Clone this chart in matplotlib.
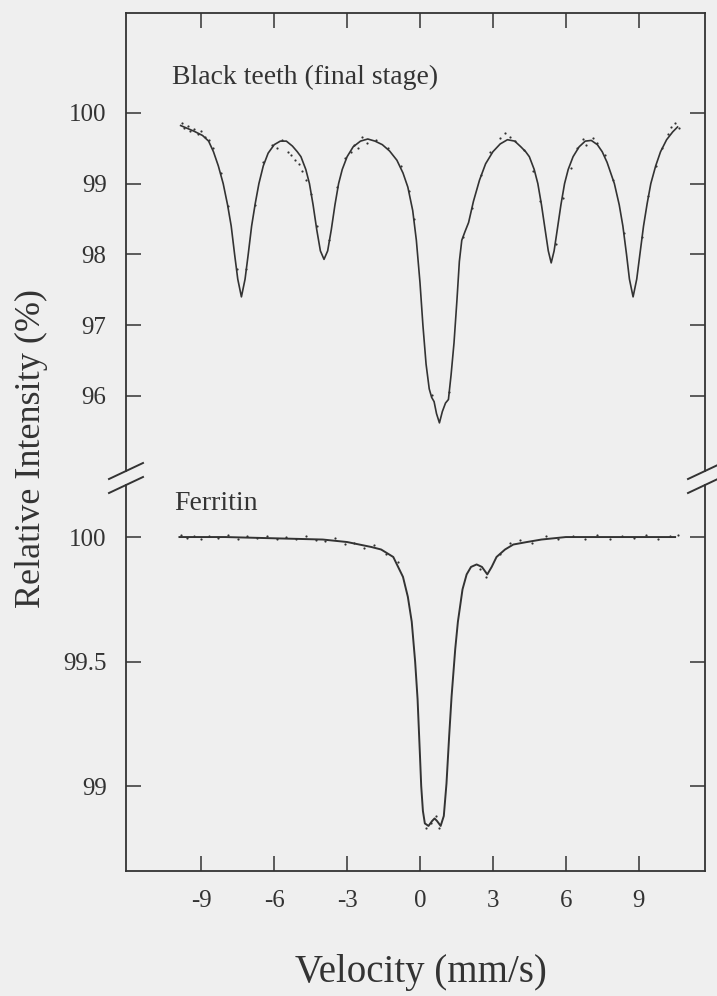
import matplotlib
matplotlib.use("Agg")
import matplotlib.pyplot as plt
from matplotlib.lines import Line2D

plt.rcParams["font.family"] = ["Liberation Serif", "DejaVu Serif"]

# Black teeth (final stage) - fitted curve
bt_vel = [-9.85, -9.3, -8.95, -8.7, -8.5, -8.3, -8.1, -7.92, -7.77, -7.63, -7.5, -7.35, -7.2, -7.07,
          -6.93, -6.78, -6.63, -6.45, -6.25, -6.0, -5.75, -5.5, -5.25, -5.05, -4.9, -4.7, -4.55, -4.4,
          -4.25, -4.1, -3.95, -3.8, -3.65, -3.5, -3.35, -3.2, -3.0, -2.75, -2.45, -2.15, -1.85, -1.55,
          -1.25, -0.95, -0.7, -0.5, -0.3, -0.15, 0.0, 0.12, 0.25, 0.38, 0.48, 0.58, 0.68, 0.8, 0.92,
          1.05, 1.17, 1.28, 1.4, 1.52, 1.62, 1.72, 1.85, 2.0, 2.2, 2.45, 2.7, 3.0, 3.3, 3.6, 3.9,
          4.15, 4.35, 4.5, 4.7, 4.85, 5.0, 5.15, 5.28, 5.4, 5.52, 5.65, 5.8, 5.95, 6.1, 6.3, 6.55,
          6.8, 7.05, 7.3, 7.5, 7.7, 7.85, 8.0, 8.2, 8.35, 8.5, 8.62, 8.77, 8.92, 9.05, 9.2, 9.35,
          9.5, 9.7, 9.9, 10.15, 10.4, 10.6]
bt_int = [99.82, 99.74, 99.68, 99.6, 99.45, 99.25, 99.0, 98.7, 98.4, 98.0, 97.65, 97.4, 97.65, 98.0,
          98.4, 98.72, 99.0, 99.25, 99.43, 99.55, 99.6, 99.6, 99.53, 99.45, 99.38, 99.2, 99.0, 98.7,
          98.35, 98.05, 97.93, 98.05, 98.35, 98.7, 99.0, 99.2, 99.38, 99.52, 99.6, 99.63, 99.6, 99.55,
          99.46, 99.33, 99.15, 98.95, 98.62, 98.2, 97.6, 97.0, 96.45, 96.1, 95.98, 95.92, 95.75, 95.62, 95.78,
          95.9, 95.95, 96.3, 96.75, 97.35, 97.9, 98.2, 98.32, 98.45, 98.75, 99.05, 99.28, 99.45, 99.56, 99.62, 99.6,
          99.52, 99.45, 99.38, 99.2, 99.0, 98.7, 98.35, 98.05, 97.88, 98.05, 98.35, 98.7, 99.0, 99.2, 99.38, 99.52,
          99.6, 99.61, 99.55, 99.45, 99.3, 99.15, 99.0, 98.7, 98.4, 98.0, 97.65, 97.4, 97.65, 98.0, 98.4, 98.72,
          99.0, 99.25, 99.45, 99.62, 99.73, 99.8]

# measured points scattered around the fit
bt_dot_vel = [-9.8, -9.7, -9.55, -9.45, -9.3, -9.15, -9.0, -8.85, -8.7, -8.5, -8.2, -7.9, -7.55, -7.15,
              -6.8, -6.45, -6.1, -5.9, -5.7, -5.45, -5.3, -5.15, -5.0, -4.85, -4.7, -4.5, -4.25, -3.75,
              -3.4, -3.1, -2.85, -2.7, -2.55, -2.4, -2.2, -1.8, -1.3, -0.8, -0.45, -0.25, 0.5, 1.2,
              1.75, 2.15, 2.5, 2.9, 3.3, 3.5, 3.7, 3.9, 4.3, 4.65, 4.95, 5.6, 5.9, 6.2, 6.45,
              6.7, 6.85, 7.1, 7.3, 7.6, 7.95, 8.4, 9.15, 9.4, 9.7, 9.95, 10.2, 10.35, 10.5, 10.65]
bt_dot_int = [99.86, 99.78, 99.82, 99.74, 99.77, 99.70, 99.75, 99.66, 99.62, 99.5, 99.15, 98.68, 97.8, 97.8,
              98.7, 99.3, 99.55, 99.50, 99.62, 99.45, 99.40, 99.33, 99.28, 99.18, 99.05, 98.85, 98.4, 98.2,
              98.95, 99.36, 99.45, 99.55, 99.50, 99.66, 99.58, 99.62, 99.5, 99.25, 98.9, 98.5, 96.02, 96.05,
              98.25, 98.66, 99.12, 99.45, 99.64, 99.72, 99.66, 99.60, 99.48, 99.18, 98.75, 98.15, 98.8, 99.22, 99.5,
              99.63, 99.55, 99.65, 99.58, 99.4, 99.05, 98.3, 98.25, 98.82, 99.25, 99.5, 99.7, 99.8, 99.85, 99.78]

# Ferritin - fitted curve
fe_vel = [-9.9, -8.0, -6.0, -4.0, -3.0, -2.5, -2.0, -1.6, -1.1, -0.7, -0.5, -0.34, -0.2, -0.1, 0.0,
          0.05, 0.12, 0.2, 0.35, 0.5, 0.6, 0.7, 0.85, 0.98, 1.09, 1.2, 1.3, 1.45, 1.56, 1.75, 1.92,
          2.1, 2.33, 2.55, 2.77, 2.95, 3.15, 3.5, 3.84, 4.4, 5.0, 6.0, 8.0, 10.5]
fe_int = [100.0, 100.0, 99.995, 99.99, 99.98, 99.97, 99.96, 99.95, 99.92, 99.84, 99.76, 99.66, 99.5, 99.35, 99.12,
          99.0, 98.9, 98.85, 98.84, 98.86, 98.87, 98.86, 98.84, 98.88, 99.01, 99.2, 99.36, 99.55, 99.66, 99.79, 99.85,
          99.88, 99.89, 99.88, 99.85, 99.88, 99.92, 99.95, 99.97, 99.98, 99.99, 100.0, 100.0, 100.0]

fe_dot_vel = [-9.85, -9.6, -9.3, -9.0, -8.7, -8.3, -7.9, -7.5, -7.1, -6.7, -6.3, -5.9, -5.5, -5.1, -4.7,
              -4.3, -3.9, -3.5, -3.1, -2.7, -2.3, -1.9, -1.4, -0.9, 0.25, 0.45, 0.65, 0.8, 2.45, 2.7,
              3.3, 3.7, 4.1, 4.6, 5.2, 5.7, 6.3, 6.8, 7.3, 7.8, 8.3, 8.8, 9.3, 9.8, 10.3, 10.6]
fe_dot_int = [100.008, 99.995, 100.006, 99.993, 100.004, 99.996, 100.007, 99.992, 100.003, 99.995, 100.006, 99.991,
              100.002, 99.994, 100.005, 99.99, 99.985, 99.996, 99.972, 99.978, 99.955, 99.968, 99.93, 99.9,
              98.83, 98.85, 98.88, 98.83, 99.87, 99.84, 99.93, 99.975, 99.99, 99.975, 100.004, 99.992, 100.006,
              99.994, 100.007, 99.993, 100.005, 99.996, 100.008, 99.992, 100.004, 100.01]

x_ticks = [-9, -6, -3, 0, 3, 6, 9]
bt_yticks = [96, 97, 98, 99, 100]
fe_yticks = [99, 99.5, 100]
fe_ylabels = ["99", "99.5", "100"]

ink = "#333333"
paper = "#efefef"

W, H = 717, 996
fig = plt.figure(figsize=(W / 100, H / 100), dpi=100)
fig.patch.set_facecolor(paper)

left, right = 126, 705
ax1 = fig.add_axes([left / W, 1 - 471 / H, (right - left) / W, (471 - 13) / H])
ax2 = fig.add_axes([left / W, 1 - 871 / H, (right - left) / W, (871 - 485) / H])

for ax in (ax1, ax2):
    ax.set_facecolor(paper)
    ax.set_xlim(-12.1, 11.73)
    for s in ax.spines.values():
        s.set_color(ink)
        s.set_linewidth(1.3)
    ax.tick_params(axis="both", direction="in", length=11, width=1.1, colors=ink,
                   labelsize=18, pad=14, right=True)
    ax.set_xticks(x_ticks)

ax1.spines["bottom"].set_visible(False)
ax2.spines["top"].set_visible(False)

ax1.tick_params(axis="x", top=True, bottom=False, labeltop=False, labelbottom=False)
ax2.tick_params(axis="x", top=False, bottom=True)
ax2.set_xticklabels([str(t) for t in x_ticks])

# upper panel
ax1.plot(bt_vel, bt_int, color=ink, lw=1.2)
ax1.scatter(bt_dot_vel, bt_dot_int, s=2.5, color=ink, lw=0)
ax1.set_ylim(94.94, 101.41)
ax1.set_yticks(bt_yticks)
ax1.set_yticklabels([str(t) for t in bt_yticks])
ax1.text(-10.2, 100.4, "Black teeth (final stage)", fontsize=20, color=ink)

# lower panel
ax2.plot(fe_vel, fe_int, color=ink, lw=1.4)
ax2.scatter(fe_dot_vel, fe_dot_int, s=2.5, color=ink, lw=0)
ax2.set_ylim(98.659, 100.209)
ax2.set_yticks(fe_yticks)
ax2.set_yticklabels(fe_ylabels)
ax2.text(-10.1, 100.11, "Ferritin", fontsize=20, color=ink)

# axis break marks on both side spines
def slash(xc, yc):
    fig.add_artist(Line2D([(xc - 17) / W, (xc + 17) / W], [1 - (yc + 8) / H, 1 - (yc - 8) / H],
                          color=ink, lw=1.4))

for xc in (left, right):
    slash(xc, 471)
    slash(xc, 485)

fig.text(31 / W, 0.55, "Relative Intensity (%)", rotation=90, fontsize=26, color=ink,
         ha="center", va="center")
fig.text(421 / W, 1 - 972 / H, "Velocity (mm/s)", fontsize=28, color=ink,
         ha="center", va="center")

fig.savefig("out.png", dpi=100, facecolor=paper)
